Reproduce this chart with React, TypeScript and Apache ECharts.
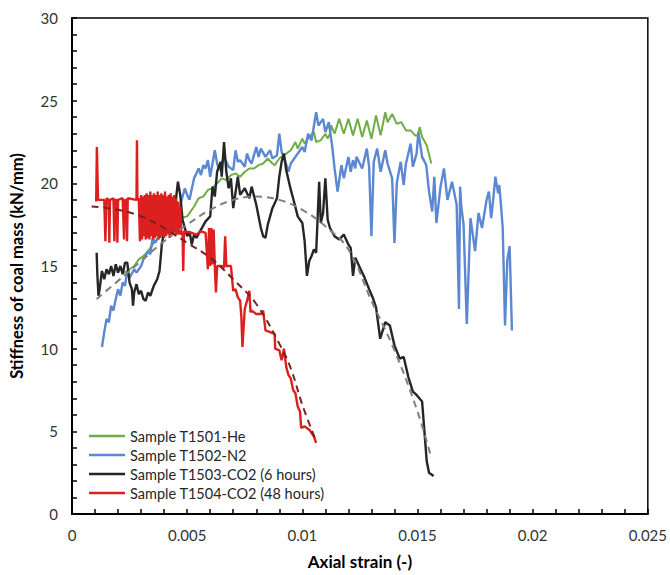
import React, { useEffect, useRef } from "react";
import * as echarts from "echarts";

const xTicks = [0, 0.005, 0.01, 0.015, 0.02, 0.025];
const yTicks = [0, 5, 10, 15, 20, 25, 30];

const seriesNames = [
  "Sample T1501-He",
  "Sample T1502-N2",
  "Sample T1503-CO2 (6 hours)",
  "Sample T1504-CO2 (48 hours)",
];

const heData: number[][] = [
  [0.00226, 14.6], [0.0025, 14.8], [0.0027, 15.0], [0.0029, 15.4], [0.0031, 15.6], [0.0033, 15.9],
  [0.0036, 16.5], [0.0038, 16.8], [0.004, 17.1], [0.0043, 17.4], [0.0047, 17.9], [0.005, 18.0],
  [0.0053, 18.6], [0.0055, 19.1], [0.0057, 19.2], [0.0059, 19.6], [0.0061, 19.7], [0.0063, 20.0],
  [0.0065, 20.3], [0.0067, 20.2], [0.0069, 20.5], [0.0071, 20.6], [0.0073, 20.4], [0.0075, 20.7],
  [0.0077, 20.9], [0.0079, 20.9], [0.0081, 21.1], [0.0083, 21.2], [0.0085, 21.5], [0.0087, 21.2],
  [0.0088, 21.1], [0.009, 21.5], [0.0091, 21.6], [0.0093, 21.8], [0.0095, 22.0], [0.0097, 22.5],
  [0.0098, 22.1], [0.01, 22.7], [0.0101, 22.4], [0.0103, 22.8], [0.0105, 23.1], [0.0106, 22.5],
  [0.0108, 22.6], [0.011, 23.0], [0.0111, 22.7], [0.0112, 23.0], [0.01125, 23.5], [0.0114, 23.0],
  [0.0116, 23.9], [0.0118, 23.0], [0.012, 23.9], [0.0122, 22.9], [0.0124, 23.9], [0.0126, 22.8],
  [0.0128, 23.8], [0.013, 22.7], [0.0132, 24.1], [0.0134, 22.9], [0.0136, 24.3], [0.0137, 23.7],
  [0.0139, 24.2], [0.0141, 23.6], [0.0143, 23.7], [0.0145, 23.2], [0.0147, 23.2], [0.0149, 22.9],
  [0.015, 22.9], [0.0151, 23.4], [0.0152, 22.8], [0.0154, 22.3], [0.0156, 21.2],
];

const n2Data: number[][] = [
  [0.0013, 10.1], [0.0014, 11.0], [0.0015, 11.8], [0.0016, 11.6], [0.0017, 12.6], [0.0018, 12.3],
  [0.0019, 13.0], [0.002, 13.6], [0.0021, 13.2], [0.0022, 14.0], [0.0023, 13.8], [0.0024, 14.7],
  [0.0025, 14.3], [0.0027, 14.8], [0.0028, 14.6], [0.003, 15.0], [0.0031, 15.4], [0.0033, 15.9],
  [0.0034, 15.7], [0.0035, 16.7], [0.0036, 16.4], [0.0038, 16.8], [0.0041, 17.3], [0.0042, 17.1],
  [0.0044, 18.0], [0.0045, 17.8], [0.0047, 18.7], [0.0049, 19.7], [0.005, 19.3], [0.0051, 19.0],
  [0.0053, 20.3], [0.0055, 20.9], [0.0056, 20.5], [0.0057, 21.1], [0.0058, 20.9], [0.0059, 21.4],
  [0.006, 20.4], [0.0062, 22.0], [0.0063, 21.2], [0.0064, 20.8], [0.0066, 21.6], [0.0068, 21.0],
  [0.007, 20.8], [0.0071, 22.0], [0.0072, 21.3], [0.0073, 21.4], [0.0075, 21.0], [0.0076, 21.8],
  [0.0077, 21.4], [0.0078, 21.2], [0.008, 22.2], [0.0081, 21.6], [0.0082, 22.1], [0.0084, 21.6],
  [0.0086, 22.0], [0.0087, 21.5], [0.0089, 21.7], [0.009, 23.0], [0.0091, 21.9], [0.0092, 21.6],
  [0.0094, 20.7], [0.0095, 21.2], [0.0097, 21.6], [0.01, 22.2], [0.0101, 21.9], [0.01025, 23.0],
  [0.0104, 22.6], [0.0106, 24.3], [0.0107, 23.5], [0.0109, 23.9], [0.011, 23.1], [0.01115, 23.7],
  [0.0113, 22.2], [0.0114, 20.9], [0.01153, 19.5], [0.0117, 21.1], [0.0118, 20.3], [0.012, 21.6],
  [0.0121, 20.7], [0.0122, 21.4], [0.0123, 20.9], [0.01235, 21.6], [0.0126, 20.9], [0.0128, 22.1],
  [0.0129, 21.0], [0.013, 16.8], [0.0131, 21.3], [0.01325, 22.1], [0.0134, 20.7], [0.0136, 22.0],
  [0.0137, 21.2], [0.0139, 20.3], [0.014, 16.4], [0.0141, 20.0], [0.01427, 21.3], [0.0144, 19.9],
  [0.0145, 21.2], [0.0147, 22.4], [0.0148, 21.0], [0.01496, 21.8], [0.01504, 23.1], [0.0152, 21.6],
  [0.01538, 21.1], [0.0155, 19.5], [0.01564, 18.3], [0.01573, 20.4], [0.01582, 17.6], [0.016, 19.8],
  [0.01615, 20.9], [0.0163, 19.0], [0.0165, 20.1], [0.0167, 18.7], [0.0168, 12.4], [0.01685, 19.8],
  [0.0169, 18.6], [0.017, 17.5], [0.01714, 11.5], [0.0173, 17.9], [0.0175, 15.9], [0.01765, 18.2],
  [0.0178, 17.3], [0.018, 19.0], [0.0181, 19.5], [0.0182, 17.9], [0.0183, 19.2], [0.01838, 20.4],
  [0.0185, 19.4], [0.01855, 19.9], [0.0186, 19.1], [0.0187, 17.3], [0.0188, 11.4], [0.0189, 15.4],
  [0.019, 16.2], [0.0191, 11.1],
];

const co2ShortData: number[][] = [
  [0.00107, 15.8], [0.0011, 14.5], [0.00115, 13.2], [0.0012, 13.6], [0.0013, 14.7], [0.0014, 14.2],
  [0.0015, 14.8], [0.0016, 14.5], [0.0017, 15.0], [0.0018, 14.4], [0.0019, 15.1], [0.002, 14.6],
  [0.0021, 15.0], [0.0022, 14.5], [0.0023, 15.2], [0.0024, 15.2], [0.0025, 14.0], [0.0026, 13.6],
  [0.00265, 12.6], [0.0027, 13.4], [0.0028, 13.9], [0.0029, 13.3], [0.003, 13.5], [0.0031, 13.0],
  [0.0032, 12.9], [0.0033, 13.4], [0.0034, 13.2], [0.00355, 13.8], [0.0037, 14.2], [0.0038, 14.7],
  [0.0039, 16.3], [0.004, 17.1], [0.0042, 17.4], [0.0043, 17.6], [0.0044, 18.3], [0.0045, 18.9],
  [0.0046, 20.1], [0.0047, 19.3], [0.0048, 17.8], [0.005, 16.8], [0.0051, 17.1], [0.0052, 16.3],
  [0.0053, 16.9], [0.0054, 16.7], [0.0056, 17.2], [0.0058, 17.7], [0.006, 18.0], [0.0061, 19.8],
  [0.0062, 19.2], [0.0063, 20.7], [0.00645, 21.3], [0.0065, 20.4], [0.0066, 22.5], [0.0067, 20.7],
  [0.0068, 19.7], [0.0069, 20.3], [0.007, 18.5], [0.0072, 20.4], [0.0073, 19.3], [0.0075, 19.7],
  [0.0077, 19.1], [0.0078, 19.8], [0.008, 18.7], [0.0082, 17.3], [0.0083, 16.8], [0.0084, 16.7],
  [0.0085, 17.5], [0.0087, 18.5], [0.0089, 19.1], [0.009, 20.4], [0.0091, 21.3], [0.0092, 21.8],
  [0.0093, 20.8], [0.0094, 20.2], [0.0095, 19.6], [0.0096, 19.1], [0.0098, 18.0], [0.01, 17.6],
  [0.0101, 16.5], [0.0102, 14.4], [0.0103, 15.3], [0.0104, 15.6], [0.0105, 16.0], [0.0106, 15.8],
  [0.01073, 20.1], [0.0108, 17.6], [0.0109, 18.2], [0.011, 20.3], [0.0111, 17.8], [0.0112, 17.3],
  [0.0114, 16.8], [0.0116, 16.6], [0.0118, 16.9], [0.012, 16.3], [0.0121, 16.1], [0.0122, 14.4],
  [0.0123, 15.5], [0.0125, 14.9], [0.0127, 14.3], [0.0129, 13.6], [0.01308, 13.0], [0.0132, 12.5],
  [0.01338, 10.6], [0.0136, 11.6], [0.0138, 11.4], [0.014, 10.2], [0.01423, 9.4], [0.0144, 9.5],
  [0.0146, 8.3], [0.0148, 7.4], [0.01496, 7.2], [0.0152, 6.8], [0.0153, 5.0], [0.0154, 3.2],
  [0.0155, 2.5], [0.0157, 2.3],
];

const co2LongData: number[][] = [
  [0.00105, 18.9], [0.00108, 22.2], [0.00111, 22.2], [0.00113, 19.0], [0.0014, 19.0], [0.00145, 16.5],
  [0.0015, 19.1], [0.0016, 19.0], [0.00162, 16.4], [0.00165, 19.0], [0.0018, 19.1], [0.00184, 16.5],
  [0.00188, 19.0], [0.00195, 19.0], [0.00197, 16.4], [0.002, 19.0], [0.0022, 19.1], [0.00226, 16.6],
  [0.0023, 19.0], [0.00237, 19.0], [0.00239, 16.5], [0.00242, 19.1], [0.0028, 19.0], [0.00282, 22.6],
  [0.00284, 19.0], [0.0029, 19.1], [0.00295, 16.5], [0.003, 19.3], [0.00304, 16.6], [0.00308, 19.2],
  [0.00312, 16.8], [0.00316, 19.3], [0.0032, 16.6], [0.00324, 19.4], [0.00328, 16.7], [0.00332, 19.3],
  [0.00336, 16.6], [0.0034, 19.5], [0.00344, 16.8], [0.00348, 19.3], [0.00352, 16.6], [0.00356, 19.4],
  [0.0036, 16.7], [0.00364, 19.3], [0.00368, 16.8], [0.00372, 19.5], [0.00376, 16.6], [0.0038, 19.3],
  [0.00384, 16.7], [0.00388, 19.4], [0.00392, 16.9], [0.00396, 19.3], [0.004, 16.7], [0.00404, 19.5],
  [0.00408, 16.8], [0.00412, 19.2], [0.00416, 16.9], [0.0042, 19.3], [0.00424, 16.7], [0.00428, 19.4],
  [0.00432, 16.8], [0.00436, 19.2], [0.0044, 16.9], [0.00444, 19.3], [0.00448, 16.8], [0.00452, 19.1],
  [0.00456, 16.9], [0.0046, 18.9], [0.00465, 16.9], [0.0047, 18.6], [0.00475, 16.9], [0.0048, 17.0],
  [0.00483, 14.7], [0.00486, 17.1], [0.0052, 17.0], [0.0054, 16.9], [0.0056, 17.1], [0.0058, 17.0],
  [0.0059, 14.8], [0.00595, 17.3], [0.006, 15.0], [0.00605, 17.3], [0.0061, 15.1], [0.00615, 17.2],
  [0.0062, 15.0], [0.00625, 13.4], [0.0063, 15.0], [0.0065, 15.0], [0.0066, 14.9], [0.00665, 16.8],
  [0.0067, 15.0], [0.0069, 15.0], [0.007, 13.5], [0.0071, 13.6], [0.0072, 13.1], [0.0073, 12.9],
  [0.00735, 12.0], [0.0074, 10.1], [0.0075, 12.4], [0.0076, 12.9], [0.0077, 13.5], [0.00775, 12.2],
  [0.0078, 12.3], [0.008, 12.1], [0.0082, 12.1], [0.0083, 12.3], [0.0084, 11.1], [0.0086, 11.0],
  [0.0088, 10.9], [0.00882, 10.0], [0.009, 9.9], [0.0091, 9.3], [0.0092, 10.0], [0.0093, 8.9],
  [0.0094, 8.4], [0.0095, 8.2], [0.0096, 7.5], [0.0097, 7.3], [0.0098, 6.5], [0.0099, 6.2],
  [0.00995, 5.2], [0.0101, 5.3], [0.0103, 5.1], [0.0104, 4.9], [0.0105, 4.7], [0.0106, 4.3],
];

const co2ShortTrend: number[][] = [
  [0.00107, 13.0], [0.002, 14.1], [0.003, 15.3], [0.004, 16.5], [0.005, 17.5], [0.006, 18.4],
  [0.007, 19.0], [0.008, 19.2], [0.009, 19.0], [0.01, 18.4], [0.011, 17.4], [0.012, 16.0],
  [0.013, 12.9], [0.014, 9.9], [0.015, 6.2], [0.0156, 3.4],
];

const co2LongTrend: number[][] = [
  [0.00085, 18.6], [0.002, 18.4], [0.003, 18.0], [0.004, 17.3], [0.005, 16.4], [0.006, 15.5],
  [0.007, 14.2], [0.008, 12.7], [0.009, 10.3], [0.0095, 8.8], [0.01, 6.6], [0.0106, 4.4],
];

const colors = ["#70ad47", "#5b87d3", "#262626", "#dc1f1f"];

export default function App() {
  const ref = useRef<HTMLDivElement>(null);
  useEffect(() => {
    if (!ref.current) return;
    const chart = echarts.init(ref.current, null, { renderer: "svg" });
    const font = "Lato, 'Open Sans', sans-serif";
    const lineSeries = [heData, n2Data, co2ShortData, co2LongData].map((d, i) => ({
      name: seriesNames[i],
      type: "line",
      data: d,
      symbol: "none",
      lineStyle: { color: colors[i], width: i === 0 ? 2 : 2.4 },
      itemStyle: { color: colors[i] },
      z: 2 + i,
    }));
    chart.setOption({
      animation: false,
      textStyle: { fontFamily: font },
      grid: {
        left: 67,
        right: 18,
        top: 18,
        bottom: 58,
        show: true,
        borderColor: "#000",
        borderWidth: 1.5,
      },
      legend: {
        data: seriesNames,
        orient: "vertical",
        left: 84,
        top: 423,
        icon: "rect",
        itemWidth: 36,
        itemHeight: 2.5,
        itemGap: 3,
        textStyle: { fontSize: 14.5, color: "#262626", fontFamily: font, lineHeight: 16 },
      },
      xAxis: {
        type: "value",
        min: xTicks[0],
        max: xTicks[xTicks.length - 1],
        interval: 0.005,
        name: "Axial strain (-)",
        nameLocation: "middle",
        nameGap: 39,
        nameTextStyle: { fontSize: 17, fontWeight: "bold", color: "#000", fontFamily: font },
        axisLine: { lineStyle: { color: "#000", width: 2 } },
        axisTick: { show: true, inside: true, length: 5, lineStyle: { color: "#000", width: 1.5 } },
        minorTick: { show: true, splitNumber: 5, length: 5, lineStyle: { color: "#000", width: 1.5 } },
        splitLine: { show: false },
        axisLabel: {
          fontSize: 15,
          color: "#333",
          margin: 13,
          formatter: (v: number) => String(parseFloat(v.toFixed(3))),
        },
      },
      yAxis: {
        type: "value",
        min: yTicks[0],
        max: yTicks[yTicks.length - 1],
        interval: 5,
        name: "Stiffness of coal mass (kN/mm)",
        nameLocation: "middle",
        nameGap: 47,
        nameTextStyle: { fontSize: 16.5, fontWeight: "bold", color: "#000", fontFamily: font },
        axisLine: { show: true, lineStyle: { color: "#000", width: 2 } },
        axisTick: { show: true, inside: true, length: 5, lineStyle: { color: "#000", width: 1.5 } },
        minorTick: { show: true, splitNumber: 5, length: 5, lineStyle: { color: "#000", width: 1.5 } },
        splitLine: { show: false },
        axisLabel: { fontSize: 15, color: "#333", margin: 14 },
      },
      series: [
        ...lineSeries,
        {
          name: "trend-6h",
          type: "line",
          data: co2ShortTrend,
          symbol: "none",
          smooth: 0.4,
          lineStyle: { color: "#7f7f7f", width: 2, type: [7, 5] },
          z: 10,
        },
        {
          name: "trend-48h",
          type: "line",
          data: co2LongTrend,
          symbol: "none",
          smooth: 0.4,
          lineStyle: { color: "#7a2222", width: 2, type: [7, 5] },
          z: 10,
        },
      ],
    });
    return () => chart.dispose();
  }, []);
  return (
    <div
      ref={ref}
      style={{ position: "fixed", left: 0, top: 0, width: 670, height: 575, background: "#fff" }}
    />
  );
}
